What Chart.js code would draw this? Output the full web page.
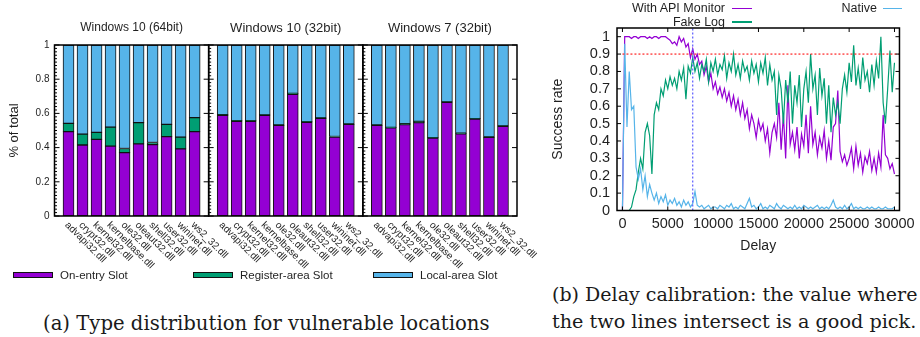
<!DOCTYPE html>
<html lang="en">
<head>
<meta charset="UTF-8">
<title>Slot types and delay calibration</title>
<script src="https://cdn.jsdelivr.net/npm/chart.js"></script>
<style>
  body { margin: 0; width: 920px; height: 337px; position: relative; overflow: hidden; background: #fff;
         font-family: "Liberation Sans", Arial, sans-serif; color: #1f1f1f; }
  canvas { position: absolute; top: 0; }
  .abs { position: absolute; white-space: nowrap; }
  .sw { position: absolute; height: 4px; border: 1px solid #111; }
  .ln { position: absolute; height: 1.5px; }
  .cap { position: absolute; white-space: nowrap; font-family: "DejaVu Serif", serif; color: #1a1a1a; line-height: 20px; }
</style>
</head>
<body>
<canvas id="slots" width="540" height="300" style="left:0"></canvas>
<canvas id="delay" width="380" height="262" style="left:540px"></canvas>

<!-- legend (a) -->
<div class="sw" style="left:13px;top:272px;width:38px;background:#9400d3"></div>
<div class="abs" style="left:60px;top:269px;font-size:11.5px;line-height:13px">On-entry Slot</div>
<div class="sw" style="left:193px;top:272px;width:38px;background:#009e73"></div>
<div class="abs" style="left:240px;top:269px;font-size:11.5px;line-height:13px">Register-area Slot</div>
<div class="sw" style="left:373px;top:272px;width:38px;background:#56b4e9"></div>
<div class="abs" style="left:420px;top:269px;font-size:11.5px;line-height:13px">Local-area Slot</div>

<!-- legend (b) -->
<div class="abs" style="right:195px;top:1px;font-size:12.5px;line-height:14px;text-align:right">With API Monitor</div>
<div class="ln" style="left:732px;top:7.5px;width:20px;background:#9400d3"></div>
<div class="abs" style="right:195px;top:14.5px;font-size:12.5px;line-height:14px;text-align:right">Fake Log</div>
<div class="ln" style="left:732px;top:21px;width:20px;background:#009e73"></div>
<div class="abs" style="right:43px;top:1px;font-size:12.5px;line-height:14px;text-align:right">Native</div>
<div class="ln" style="left:883px;top:7.5px;width:19px;background:#56b4e9"></div>

<!-- captions -->
<div class="cap fit" data-w="447" style="left:43px;top:314px">(a) Type distribution for vulnerable locations</div>
<div class="cap fit" data-w="365" style="left:552px;top:284px">(b) Delay calibration: the value where</div>
<div class="cap fit" data-w="365" style="left:552px;top:312px">the two lines intersect is a good pick.</div>

<script>
// ---- (a) slot types per dll ----
const dlls = ['advapi32.dll', 'crypt32.dll', 'kernel32.dll', 'kernelbase.dll', 'ole32.dll',
              'oleaut32.dll', 'shell32.dll', 'user32.dll', 'wininet.dll', 'ws2_32.dll'];
const panelTitles = ['Windows 10 (64bit)', 'Windows 10 (32bit)', 'Windows 7 (32bit)'];
const shareTicks = [0, 0.2, 0.4, 0.6, 0.8, 1];

const win10x64OnEntry  = [0.493, 0.415, 0.448, 0.409, 0.371, 0.422, 0.417, 0.464, 0.393, 0.493];
const win10x64Register = [0.049, 0.064, 0.041, 0.111, 0.024, 0.124, 0.013, 0.072, 0.068, 0.082];
const win10x64Local    = [0.458, 0.521, 0.511, 0.480, 0.605, 0.454, 0.570, 0.464, 0.539, 0.425];

const win10x86OnEntry  = [0.588, 0.554, 0.554, 0.589, 0.530, 0.712, 0.548, 0.571, 0.462, 0.536];
const win10x86Register = [0.005, 0.004, 0.004, 0.002, 0.002, 0.005, 0.004, 0.003, 0.003, 0.002];
const win10x86Local    = [0.407, 0.442, 0.442, 0.409, 0.468, 0.283, 0.448, 0.426, 0.535, 0.462];

const win7x86OnEntry   = [0.530, 0.516, 0.534, 0.546, 0.456, 0.665, 0.481, 0.567, 0.460, 0.525];
const win7x86Register  = [0.002, 0.002, 0.006, 0.007, 0.002, 0.002, 0.003, 0.002, 0.002, 0.002];
const win7x86Local     = [0.468, 0.482, 0.460, 0.447, 0.542, 0.333, 0.516, 0.431, 0.538, 0.473];

// ---- (b) delay calibration ----
const delayStep = 250;
const delayTicks = [0, 5000, 10000, 15000, 20000, 25000, 30000];
const rateTicks = [0, 0.1, 0.2, 0.3, 0.4, 0.5, 0.6, 0.7, 0.8, 0.9, 1];
const targetRate = 0.9;
const chosenDelay = 7750;

const apiMonitor = [
  0, 1, 1, 1, 0.99, 1, 1, 0.99, 1, 1,
  1, 0.99, 1, 0.99, 1, 1, 0.99, 1, 1, 1,
  0.99, 0.98, 0.96, 0.97, 0.95, 1, 0.97, 0.99, 0.94, 0.96,
  0.88, 0.93, 0.87, 0.9, 0.84, 0.86, 0.78, 0.83, 0.74, 0.79,
  0.7, 0.74, 0.67, 0.71, 0.65, 0.7, 0.63, 0.68, 0.6, 0.66,
  0.58, 0.64, 0.55, 0.62, 0.53, 0.58, 0.47, 0.55, 0.5, 0.42,
  0.52, 0.46, 0.5, 0.4, 0.47, 0.33, 0.45, 0.5, 0.42, 0.62,
  0.35, 0.55, 0.3, 0.72, 0.38, 0.45, 0.35, 0.48, 0.3, 0.44,
  0.37, 0.55, 0.33, 0.6, 0.38, 0.45, 0.32, 0.42, 0.36, 0.46,
  0.3, 0.4, 0.29, 0.48, 0.5, 0.69, 0.34, 0.28, 0.32, 0.26,
  0.3, 0.36, 0.24, 0.37, 0.26, 0.33, 0.22, 0.31, 0.27, 0.34,
  0.23, 0.3, 0.22, 0.33, 0.25, 0.55, 0.32, 0.3, 0.24, 0.27,
  0.21
];
const fakeLog = [
  0, 0, 0, 0, 0.02, 0.08, 0.12, 0.22, 0.3, 0.24,
  0.45, 0.5, 0.43, 0.21, 0.55, 0.62, 0.58, 0.7, 0.66, 0.75,
  0.7, 0.77, 0.72, 0.76, 0.7, 0.8, 0.75, 0.82, 0.64, 0.83,
  0.79, 0.88, 0.8, 0.85, 0.76, 0.84, 0.8, 0.87, 0.74, 0.85,
  0.8, 0.87, 0.78, 0.84, 0.81, 0.89, 0.76, 0.85, 0.8, 0.9,
  0.78, 0.84, 0.76, 0.86, 0.8, 0.83, 0.75, 0.86, 0.79, 0.84,
  0.74, 0.85, 0.79, 0.88, 0.72, 0.84, 0.75, 0.8, 0.55, 0.78,
  0.7, 0.5, 0.75, 0.62, 0.8, 0.5, 0.72, 0.62, 0.78, 0.48,
  0.7, 0.8, 0.62, 0.9, 0.7, 0.78, 0.55, 0.82, 0.66, 0.76,
  0.5, 0.72, 0.45, 0.65, 0.55, 0.62, 0.5, 0.7, 0.78, 0.68,
  0.85, 0.74, 0.95, 0.72, 0.82, 0.7, 0.88, 0.75, 0.8, 0.68,
  0.84, 0.72, 0.86, 0.76, 1.0, 0.62, 0.5, 0.7, 0.92, 0.68,
  0.85
];
const native = [
  0, 0.96, 0.48, 0.8, 0.58, 0.6, 0.25, 0.18, 0.24, 0.12,
  0.2, 0.08, 0.15, 0.1, 0.06, 0.1, 0.04, 0.08, 0.05, 0.09,
  0.03, 0.06, 0.04, 0.07, 0.03, 0.05, 0.02, 0.06, 0.03, 0.05,
  0.02, 0.04, 0.11, 0.03, 0.02, 0.03, 0.01, 0.02, 0.03, 0.01,
  0.02, 0.02, 0.01, 0.03, 0.02, 0.01, 0.03, 0.02, 0.04, 0.01,
  0.02, 0.01, 0.03, 0.02, 0.01, 0.04, 0.07, 0.02, 0.03, 0.01,
  0.02, 0.04, 0.01, 0.02, 0.01, 0.03, 0.02, 0.01, 0.04, 0.02,
  0.01, 0.03, 0.02, 0.01, 0.02, 0.01, 0.03, 0.01, 0.02, 0.01,
  0.03, 0.02, 0.01, 0.02, 0.01, 0.02, 0.03, 0.01, 0.02, 0.01,
  0.02, 0.01, 0.03, 0.06, 0.02, 0.01, 0.02, 0.01, 0.03, 0.01,
  0.02, 0.04, 0.01, 0.02, 0.01, 0.02, 0.01, 0.01, 0.02, 0.01,
  0.02, 0.01, 0.01, 0.02, 0.01, 0.01, 0.02, 0.01, 0.01, 0.01,
  0.02
];

const PURPLE = '#9400d3', GREEN = '#009e73', BLUE = '#56b4e9', INK = '#1f1f1f';
const SANS = '"Liberation Sans", Arial, sans-serif';
Chart.defaults.font.family = SANS;
Chart.defaults.color = INK;

// each panel holds 10 bars, panels sit 11 units apart on one linear axis
const PANEL = 11;
function panelPoints(panels) {
  return panels.flatMap((vals, p) => vals.map((v, i) => ({ x: p * PANEL + i, y: v })));
}
function barSet(label, panels, color) {
  return { label, data: panelPoints(panels), backgroundColor: color, borderColor: '#111',
           borderWidth: 1, borderSkipped: false, barThickness: 11 };
}

const panelFrames = {
  id: 'panelFrames',
  afterDatasetsDraw(chart) {
    const { ctx, chartArea: { top, bottom }, scales: { x, y } } = chart;
    ctx.save();
    panelTitles.forEach((title, p) => {
      const l = x.getPixelForValue(p * PANEL - 1), r = x.getPixelForValue(p * PANEL + 10);
      ctx.strokeStyle = '#000';
      ctx.lineWidth = 1;
      ctx.beginPath();
      for (let k = 0; k <= 50; k++) {
        const py = y.getPixelForValue(k / 50);
        const major = k % 10 === 0;
        ctx.moveTo(l, py); ctx.lineTo(l + (major ? 5 : 2.5), py);
        if (major) { ctx.moveTo(r, py); ctx.lineTo(r - 5, py); }
      }
      ctx.stroke();
      ctx.lineWidth = 1.5;
      ctx.strokeRect(l, top, r - l, bottom - top);

      ctx.fillStyle = INK;
      ctx.font = (p === 0 ? '12px ' : '13px ') + SANS;
      ctx.textAlign = 'center';
      ctx.textBaseline = 'middle';
      ctx.fillText(title, (l + r) / 2, 28);

      ctx.font = '10px ' + SANS;
      ctx.textAlign = 'left';
      dlls.forEach((name, i) => {
        const px = x.getPixelForValue(p * PANEL + i);
        ctx.save();
        ctx.translate(px - 2, bottom + 7.5);
        ctx.rotate(Math.PI / 4);
        ctx.fillText(name, 0, 0);
        ctx.restore();
      });
    });
    ctx.restore();
  }
};

new Chart(document.getElementById('slots'), {
  type: 'bar',
  data: {
    datasets: [
      barSet('On-entry Slot', [win10x64OnEntry, win10x86OnEntry, win7x86OnEntry], PURPLE),
      barSet('Register-area Slot', [win10x64Register, win10x86Register, win7x86Register], GREEN),
      barSet('Local-area Slot', [win10x64Local, win10x86Local, win7x86Local], BLUE)
    ]
  },
  options: {
    responsive: false,
    animation: false,
    layout: { padding: { top: 45, right: 23, bottom: 84, left: 0 } },
    plugins: { legend: { display: false }, tooltip: { enabled: false } },
    scales: {
      x: { type: 'linear', min: -1, max: 32, stacked: true, offset: false, display: false },
      y: {
        min: 0, max: 1, stacked: true,
        afterFit: s => { s.width = 54.5; },
        afterBuildTicks: s => { s.ticks = shareTicks.map(v => ({ value: v })); },
        grid: { display: false, drawTicks: false },
        border: { display: false },
        ticks: { padding: 5, autoSkip: false, font: { size: 10 }, callback: v => String(v) },
        title: { display: true, text: '% of total', font: { size: 13 }, padding: { top: 7 } }
      }
    }
  },
  plugins: [panelFrames]
});

// ---- (b) ----
const delayPoints = vals => vals.map((v, i) => ({ x: i * delayStep, y: v }));

const delayFrame = {
  id: 'delayFrame',
  afterDatasetsDraw(chart) {
    const { ctx, chartArea: { left, right, top, bottom }, scales: { x, y } } = chart;
    ctx.save();
    ctx.strokeStyle = '#000';
    ctx.lineWidth = 1;
    ctx.beginPath();
    delayTicks.forEach(v => {
      const px = x.getPixelForValue(v);
      ctx.moveTo(px, bottom); ctx.lineTo(px, bottom - 4);
      ctx.moveTo(px, top); ctx.lineTo(px, top + 4);
    });
    rateTicks.forEach(v => {
      const py = y.getPixelForValue(v);
      ctx.moveTo(left, py); ctx.lineTo(left + 4, py);
      ctx.moveTo(right, py); ctx.lineTo(right - 4, py);
    });
    ctx.stroke();
    ctx.lineWidth = 1.5;
    ctx.strokeRect(left, top, right - left, bottom - top);
    ctx.restore();
  }
};

const X_MIN = -600, X_MAX = 30550, Y_MAX = 1.05;

new Chart(document.getElementById('delay'), {
  type: 'line',
  data: {
    datasets: [
      { label: 'Native', data: delayPoints(native), borderColor: BLUE, borderWidth: 1.2, order: 1 },
      { label: 'Fake Log', data: delayPoints(fakeLog), borderColor: GREEN, borderWidth: 1.2, order: 2 },
      { label: 'With API Monitor', data: delayPoints(apiMonitor), borderColor: PURPLE, borderWidth: 1.2, order: 3 },
      { label: 'target', data: [{ x: 0, y: targetRate }, { x: X_MAX, y: targetRate }],
        borderColor: '#ff2020', borderWidth: 1.2, borderDash: [2, 2], order: 0 },
      { label: 'chosen', data: [{ x: chosenDelay, y: 0 }, { x: chosenDelay, y: Y_MAX }],
        borderColor: '#5a5aff', borderWidth: 1.2, borderDash: [2, 2], order: 0 }
    ]
  },
  options: {
    responsive: false,
    animation: false,
    layout: { padding: { top: 28, right: 20, bottom: 0, left: 0 } },
    elements: { point: { radius: 0 }, line: { tension: 0 } },
    plugins: { legend: { display: false }, tooltip: { enabled: false } },
    scales: {
      x: {
        type: 'linear', min: X_MIN, max: X_MAX,
        afterFit: s => { s.height = 51.5; },
        afterBuildTicks: s => { s.ticks = delayTicks.map(v => ({ value: v })); },
        grid: { display: false, drawTicks: false },
        border: { display: false },
        ticks: { padding: 5, autoSkip: false, maxRotation: 0, font: { size: 14.5 }, callback: v => String(v) },
        title: { display: true, text: 'Delay', font: { size: 14 }, padding: { top: 0, bottom: 7 } }
      },
      y: {
        min: 0, max: Y_MAX,
        afterFit: s => { s.width = 77; },
        afterBuildTicks: s => { s.ticks = rateTicks.map(v => ({ value: v })); },
        grid: { display: false, drawTicks: false },
        border: { display: false },
        ticks: { padding: 7, autoSkip: false, font: { size: 14.5 }, callback: v => String(v) },
        title: { display: true, text: 'Success rate', font: { size: 14 }, padding: { top: 9.5 } }
      }
    }
  },
  plugins: [delayFrame]
});

// fit serif captions to their measured widths
document.querySelectorAll('.fit').forEach(el => {
  el.style.fontSize = '16px';
  el.style.fontSize = (16 * el.dataset.w / el.offsetWidth) + 'px';
});
</script>
</body>
</html>
